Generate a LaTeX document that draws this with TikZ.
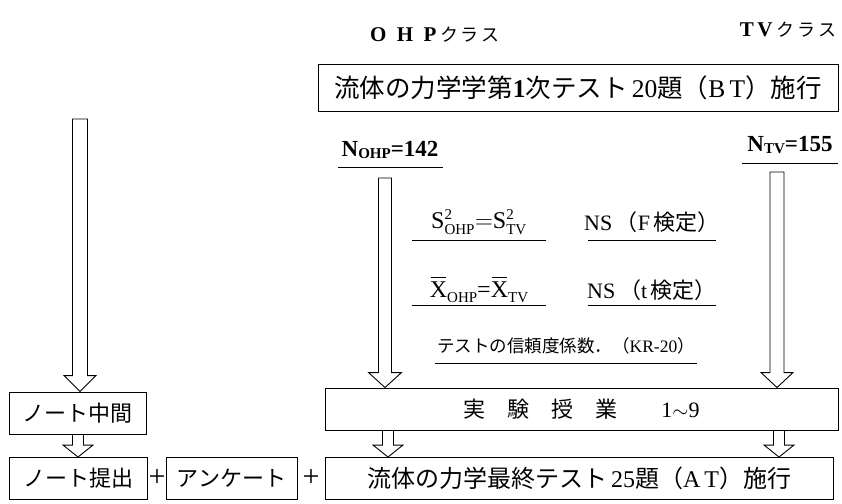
\documentclass[tikz,border=0pt]{standalone}
\usepackage{fontspec}
\setmainfont{Liberation Serif}
\newfontfamily\jp{Noto Sans CJK JP}
\usetikzlibrary{calc}
\tikzset{
  box/.style={draw, line width=0.9pt, inner sep=0pt},
  arr/.style={draw, line width=0.9pt, fill=white},
  txt/.style={inner sep=0pt},
  ul/.style={line width=0.9pt}
}
\newcommand\hollowarrow[5]{%
  \path[arr] let \p1=#1, \p2=#2 in
    (\x1-#3,\y1) -- (\x1+#3,\y1) -- (\x1+#3,\y2+#5) -- (\x1+#4,\y2+#5)
    -- (\x1,\y2) -- (\x1-#4,\y2+#5) -- (\x1-#3,\y2+#5) -- cycle;}
\newcommand\subtxt[1]{\hbox{\fontsize{15}{15}\selectfont #1}}
\newcommand\lowtxt[1]{\raisebox{-0.22em}{\fontsize{15}{15}\selectfont #1}}
\newcommand\barX{\leavevmode\rlap{\kern0.03em\raisebox{0.82em}{\rule{0.66em}{0.9pt}}}X}
\begin{document}
\begin{tikzpicture}[x=1pt,y=-1pt]
\useasboundingbox (0,0) rectangle (842,503);
% headers
\node[txt, font=\fontsize{21}{21}\selectfont] (ohp) at (435,35) {{\bfseries O\enspace H\enspace P}\,{\jp\fontsize{18}{18}\selectfont ク\,ラ\,ス}};
\node[txt, font=\fontsize{21}{21}\selectfont] (tv) at (788,30) {{\bfseries T\,V}\,{\jp\fontsize{18}{18}\selectfont ク\,ラ\,ス}};
% top box
\node[box, minimum width=520pt, minimum height=47pt, font=\fontsize{25.5}{25}\selectfont] (top) at (578,87.5)
  {{\jp 流体の力学学第}\textbf{1}{\jp 次テスト}\,20{\jp 題（}B\,T{\jp ）施行}};
% N labels
\node[txt, font=\fontsize{23}{23}\selectfont\bfseries] (nohp) at (390,150)
  {N\raisebox{-0.1em}{\fontsize{15}{15}\selectfont OHP}=142};
\draw[ul] (338,167) -- (443,167);
\node[txt, font=\fontsize{23}{23}\selectfont\bfseries] (ntv) at (790,145)
  {N\raisebox{-0.1em}{\fontsize{15}{15}\selectfont TV}=155};
\draw[ul] (742,163) -- (838,163);
% statistics
\node[txt, font=\fontsize{24}{24}\selectfont] (s2) at (479,222)
  {$\mathrm{S}^{\subtxt{2}}_{\subtxt{OHP}}{=}\mathrm{S}^{\subtxt{2}}_{\subtxt{TV}}$};
\draw[ul] (412,240) -- (546,240);
\node[txt, font=\fontsize{22}{22}\selectfont] (nsf) at (652,222)
  {NS\,{\jp （}F\,{\jp 検定）}};
\draw[ul] (588,240) -- (716,240);
\node[txt, font=\fontsize{24}{24}\selectfont] (xb) at (479,290)
  {\barX\lowtxt{OHP}=\barX\lowtxt{TV}};
\draw[ul] (412,305) -- (546,305);
\node[txt, font=\fontsize{22}{22}\selectfont] (nst) at (652,290)
  {NS\,{\jp （}t\,{\jp 検定）}};
\draw[ul] (588,305) -- (716,305);
\node[txt, font=\fontsize{17.5}{17}\selectfont] (kr) at (566,346)
  {{\jp テストの信頼度係数．（}KR-20{\jp ）}};
\draw[ul] (435,363) -- (697,363);
% middle and bottom boxes
\node[box, minimum width=513pt, minimum height=42pt, font=\fontsize{22}{22}\selectfont] (jikken) at (581.5,409)
  {{\jp 実\quad 験\quad 授\quad 業}\qquad 1$\sim$9};
\node[box, minimum width=508pt, minimum height=42pt, font=\fontsize{24}{24}\selectfont] (final) at (579,478.5)
  {{\jp 流体の力学最終テスト}\,25{\jp 題（}A\,T{\jp ）施行}};
% left column
\node[box, minimum width=137pt, minimum height=42pt, font=\fontsize{22}{22}\selectfont] (note1) at (77.5,413) {{\jp ノート中間}};
\node[box, minimum width=138pt, minimum height=42pt, font=\fontsize{22}{22}\selectfont] (note2) at (78,478.5) {{\jp ノート提出}};
\node[box, minimum width=131pt, minimum height=42pt, font=\fontsize{22}{22}\selectfont] (anke) at (231.5,478.5) {{\jp アンケート}};
\node[txt, font=\fontsize{30}{30}\selectfont] (plus1) at (157,478.5) {+};
\node[txt, font=\fontsize{30}{30}\selectfont] (plus2) at (311,478.5) {+};
% arrows
\coordinate (aleft) at (80,119);
\coordinate (aohp) at (385,178);
\coordinate (atv) at (777,172);
\coordinate (sohp) at (388,0);
\coordinate (stv) at (779,0);
\coordinate (snote) at (78,0);
\hollowarrow{(aleft)}{(aleft |- note1.north)}{7.5pt}{16pt}{16pt}
\hollowarrow{(aohp)}{(aohp |- jikken.north)}{6.5pt}{16.5pt}{15pt}
\hollowarrow{(atv)}{(atv |- jikken.north)}{7pt}{16pt}{15pt}
\hollowarrow{(jikken.south -| sohp)}{(final.north -| sohp)}{5.5pt}{15pt}{12pt}
\hollowarrow{(jikken.south -| stv)}{(final.north -| stv)}{5.5pt}{15pt}{12pt}
\hollowarrow{(note1.south -| snote)}{(note2.north -| snote)}{5.5pt}{15pt}{12pt}
\end{tikzpicture}
\end{document}
